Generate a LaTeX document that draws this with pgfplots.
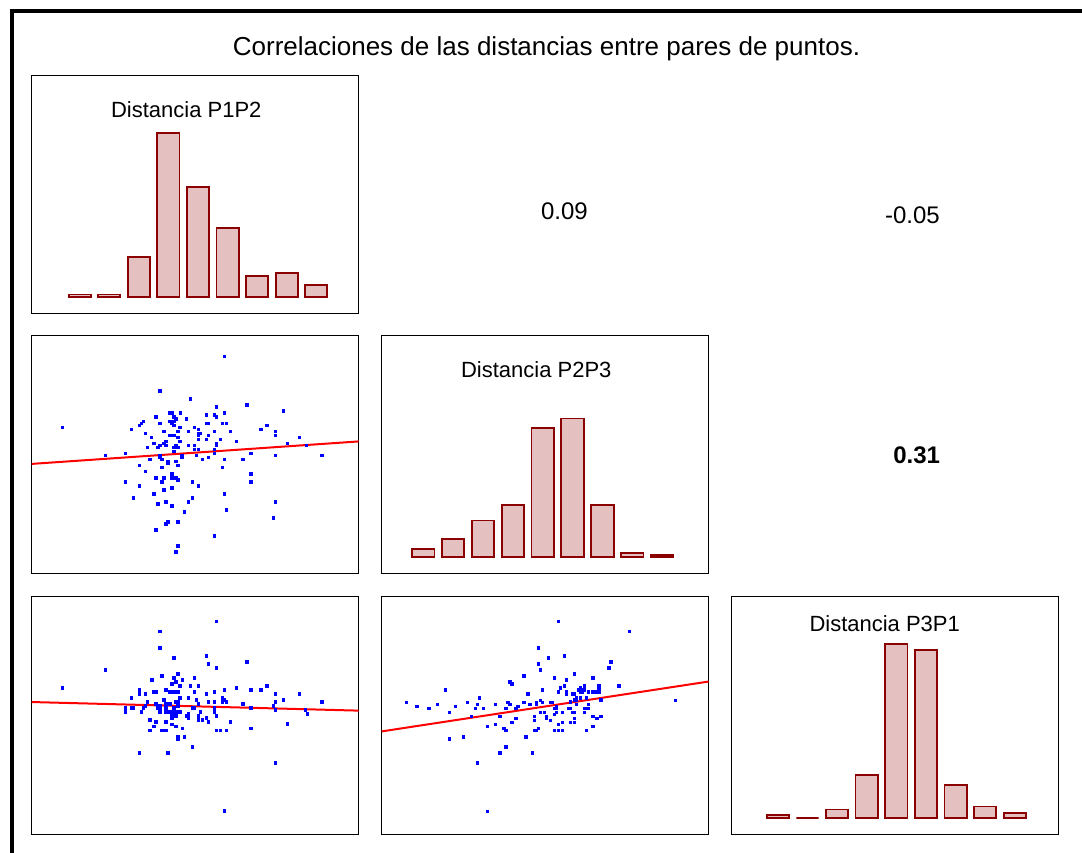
\documentclass[border=0pt]{standalone}
\usepackage{fontspec}
\setmainfont{Liberation Sans}
\usepackage{pgfplots}
\pgfplotsset{compat=1.18}

\definecolor{barline}{RGB}{139,0,0}
\definecolor{barfill}{RGB}{228,192,192}
\definecolor{ptblue}{RGB}{0,0,255}
\definecolor{fitred}{RGB}{255,0,0}

\pgfplotsset{
  panel/.style={scale only axis, width=327pt, height=238pt, anchor=south west,
    xtick=\empty, ytick=\empty, axis line style={line width=1.4pt}},
  hist/.style={panel, ybar, bar width=0.75, ymin=-5.1, ymax=68},
  scat/.style={panel, y dir=reverse, xmin=5, xmax=986},
  histbar/.style={draw=barline, fill=barfill, line width=1.8pt},
  pts/.style={only marks, mark=square*, mark size=1.3pt, color=ptblue},
  fit/.style={fitred, line width=2pt},
}

\begin{document}
\begin{tikzpicture}[x=1pt,y=1pt]
\useasboundingbox (0,0) rectangle (1082,853);

% outer frame
\draw[line width=4pt] (12,-20) -- (12,842) -- (1100,842);

\node[anchor=base, inner sep=0pt, font=\fontsize{26}{30}\selectfont] at (546.5,797)
  {Correlaciones de las distancias entre pares de puntos.};

% ---------- diagonal: histograms ----------
\begin{axis}[hist, at={(31.7pt,539.7pt)}, xmin=-0.623, xmax=10.434]
\addplot[histbar] coordinates {(1,0.7) (2,0.7) (3,12.2) (4,50.3) (5,33.8) (6,21.0) (7,6.3) (8,7.3) (9,3.5)};
\end{axis}

\begin{axis}[hist, at={(381.7pt,279.5pt)}, xmin=-0.389, xmax=10.556]
\addplot[histbar] coordinates {(1,2.3) (2,5.4) (3,11.2) (4,16.0) (5,39.6) (6,42.5) (7,16.0) (8,1.2) (9,0.7)};
\end{axis}

\begin{axis}[hist, at={(731.7pt,18.5pt)}, xmin=-0.556, xmax=10.482]
\addplot[histbar] coordinates {(1,0.85) (2,0) (3,2.6) (4,13.2) (5,53.3) (6,51.5) (7,10.2) (8,3.5) (9,1.5)};
\end{axis}

\node[anchor=base, inner sep=0pt, font=\fontsize{22}{26}\selectfont] at (186.3,735.3) {Distancia P1P2};
\node[anchor=base, inner sep=0pt, font=\fontsize{22}{26}\selectfont] at (536.3,475.3) {Distancia P2P3};
\node[anchor=base, inner sep=0pt, font=\fontsize{22}{26}\selectfont] at (884.7,221.3) {Distancia P3P1};

% ---------- upper triangle: correlation coefficients ----------
\node[anchor=base, inner sep=0pt, font=\fontsize{24}{28}\selectfont] at (564.4,633.7) {0.09};
\node[anchor=base, inner sep=0pt, font=\fontsize{24}{28}\selectfont] at (912.4,629.7) {-0.05};
\node[anchor=base, inner sep=0pt, font=\fontsize{24}{28}\selectfont\bfseries] at (916.7,389) {0.31};

% ---------- lower triangle: scatter plots ----------
% P1P2 vs P2P3
\begin{axis}[scat, at={(31.7pt,279.5pt)}, ymin=1.5, ymax=715.5]
\addplot[pts] table {
x y
583 64
389 167
480 191
650 210
559 216
759 228
377 246
419 234
425 234
450 234
431 246
437 252
468 252
529 240
553 240
559 246
583 234
340 259
334 265
328 271
389 265
419 259
425 265
431 271
431 259
449 277
492 277
529 265
535 265
577 265
589 265
710 271
97 277
304 283
504 283
692 283
735 289
401 289
443 289
474 289
553 289
601 289
346 295
419 301
431 301
443 307
504 295
510 295
504 301
535 301
735 301
808 307
364 307
571 313
504 313
529 313
619 319
407 319
449 319
401 325
389 331
371 325
407 331
437 331
443 337
431 337
474 331
492 331
559 325
559 331
771 325
829 331
352 337
383 337
492 343
504 343
553 343
553 355
431 349
226 361
286 355
389 361
389 367
455 361
455 367
498 361
662 355
735 361
875 361
359 373
395 373
413 379
413 385
437 379
516 373
535 367
583 373
638 373
328 391
443 391
395 397
577 397
346 409
425 416
662 416
377 428
401 428
425 428
437 428
443 434
286 440
395 440
486 440
662 440
328 452
504 452
425 458
401 464
371 476
583 476
310 488
486 488
474 500
407 501
735 501
383 507
425 513
589 525
462 531
729 549
413 561
407 567
443 561
377 585
553 603
443 633
437 651
};
\addplot[fit] coordinates {(5,386.7) (986,319.3)};
\end{axis}

% P1P2 vs P3P1
\begin{axis}[scat, at={(31.7pt,18.5pt)}, ymin=4.5, ymax=718.5]
\addplot[pts] table {
x y
559 79
389 109
389 158
431 188
529 182
535 206
559 218
650 200
226 224
395 243
443 237
431 249
456 255
492 249
365 255
425 267
437 261
449 273
480 273
504 273
710 273
97 279
619 279
328 285
407 285
583 285
662 285
692 285
371 291
377 291
419 291
431 291
443 291
492 291
553 291
328 297
346 297
529 297
735 297
808 297
304 309
449 309
474 309
577 309
401 315
498 315
583 315
759 315
352 321
437 321
443 321
535 321
553 321
577 321
589 321
735 321
875 321
377 327
407 327
413 327
419 327
504 327
638 327
729 333
346 333
389 333
443 333
286 339
304 339
310 339
340 339
383 339
389 339
407 339
431 339
486 339
492 339
553 339
662 339
735 345
826 345
286 351
334 351
389 351
407 351
413 351
425 351
437 351
449 351
510 351
553 351
431 357
474 357
425 363
431 363
437 363
468 363
504 363
559 363
832 357
425 369
474 369
359 375
504 375
516 375
529 369
535 381
377 381
407 381
601 381
771 387
425 388
437 394
371 394
456 400
662 400
359 406
395 406
401 406
407 406
559 406
571 406
589 406
443 425
443 431
462 425
486 455
328 473
413 473
735 503
583 648
};
\addplot[fit] coordinates {(5,321.1) (986,346.9)};
\end{axis}

% P2P3 vs P3P1
\begin{axis}[scat, at={(381.7pt,18.5pt)}, ymin=4.5, ymax=718.5]
\addplot[pts] table {
x y
535 79
747 109
474 158
504 188
553 182
474 206
692 200
686 218
480 224
583 237
431 243
522 249
638 249
389 261
395 267
559 255
195 285
486 285
553 273
613 273
656 273
716 273
541 279
601 279
595 285
607 285
613 285
583 297
577 297
559 291
559 297
535 291
625 291
638 291
650 291
656 291
656 285
601 291
607 291
443 297
298 309
589 309
601 309
619 309
662 315
583 315
589 315
571 321
886 316
79 322
171 328
262 322
292 328
346 328
383 322
389 328
431 322
449 328
468 322
468 328
480 316
486 322
510 322
516 322
589 328
625 328
110 334
225 334
413 334
529 334
146 340
286 340
310 340
377 340
407 340
522 340
529 340
565 340
571 340
613 340
619 340
625 340
207 352
480 352
492 352
529 352
522 358
547 352
577 352
583 352
613 352
359 364
274 364
462 364
498 364
498 370
638 364
662 364
407 370
583 370
650 370
462 376
510 376
395 382
547 382
571 382
583 382
346 388
535 388
322 394
638 394
474 400
371 400
377 406
462 406
468 406
522 406
535 406
547 406
619 406
437 425
249 425
207 431
377 455
359 473
456 473
292 503
322 649
};
\addplot[fit] coordinates {(5,409.2) (986,259.6)};
\end{axis}

\end{tikzpicture}
\end{document}
